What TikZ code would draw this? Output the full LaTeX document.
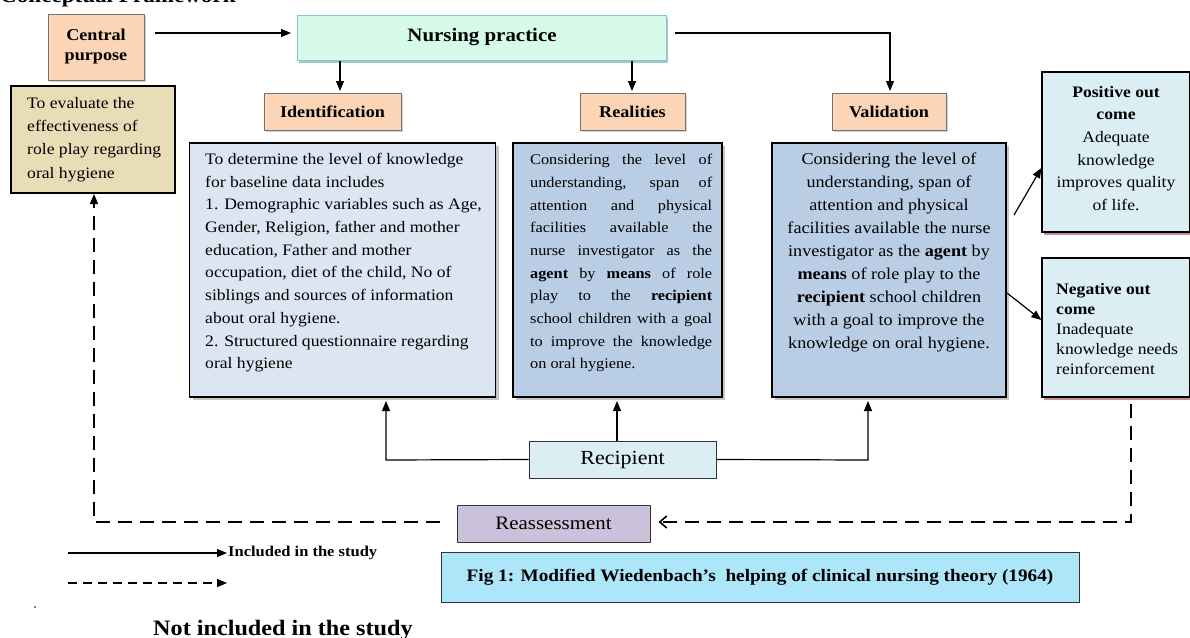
\documentclass[tikz,border=0pt]{standalone}
\usepackage{fontspec}
\setmainfont[FakeStretch=1.1]{Liberation Serif}
\usetikzlibrary{arrows.meta,shadows}
\definecolor{peach}{HTML}{FBD5B5}
\definecolor{mint}{HTML}{D6FBEA}
\definecolor{teal}{HTML}{7EC9D3}
\definecolor{parch}{HTML}{E9DDB8}
\definecolor{lblue}{HTML}{DCE6F2}
\definecolor{mblue}{HTML}{B9CDE5}
\definecolor{cyanl}{HTML}{DBEEF4}
\definecolor{lav}{HTML}{CCC1DA}
\definecolor{capc}{HTML}{ADE6F9}
\definecolor{dred}{HTML}{7F2020}
\tikzset{
  base/.style={draw, inner sep=0pt, line width=1pt},
  headbox/.style={base, fill=peach, draw=black!55, font=\fontsize{16.5}{20}\selectfont\bfseries, align=center,
    drop shadow={shadow xshift=2pt,shadow yshift=-2pt,fill=black!35}},
  bigbox/.style={base, line width=1.3pt, drop shadow={shadow xshift=3pt,shadow yshift=-3pt,fill=black!45}},
  outbox/.style={base, fill=cyanl, line width=1.2pt, drop shadow={shadow xshift=2pt,shadow yshift=-3pt,fill=dred}},
  body/.style={inner sep=0pt, font=\fontsize{16}{22.7}\selectfont},
  conn/.style={line width=1.2pt, -{Triangle[length=10pt,width=8pt]}},
  dconn/.style={line width=1.6pt, dash pattern=on 14pt off 8pt},
}
\begin{document}
\begin{tikzpicture}[x=1pt,y=-1pt]
\useasboundingbox (0,0) rectangle (1190,637);
% title (cut at top)
\node[anchor=base west, inner sep=0pt, font=\fontsize{21}{24}\selectfont\bfseries] (title) at (0,2) {Conceptual Framework};
% central purpose
\node[headbox, minimum width=96pt, minimum height=66pt] (cp) at (96,47) {Central\\purpose};
\node[base, fill=parch, line width=1.3pt, minimum width=164pt, minimum height=107pt] (obj) at (93,139.5) {};
\node[body, anchor=north west, align=left, font=\fontsize{16}{23.3}\selectfont] (objT) at (27,97) {To evaluate the\\effectiveness of\\role play regarding\\oral hygiene};
% nursing practice
\node[base, fill=mint, draw=teal, minimum width=369pt, minimum height=45pt, font=\fontsize{19}{22}\selectfont\bfseries,
  drop shadow={shadow xshift=1pt,shadow yshift=-3pt,fill=teal!70!black}] (np) at (482,37.5) {Nursing practice};
\coordinate (cpA) at (155,33);
\draw[conn] (cpA) -- ([xshift=-6pt]np.west |- cpA);
% heads
\node[headbox, minimum width=137pt, minimum height=37pt] (ident) at (332.5,111.5) {Identification};
\node[headbox, minimum width=105pt, minimum height=37pt] (real) at (632.5,111.5) {Realities};
\node[headbox, minimum width=114pt, minimum height=37pt] (valid) at (889,111.5) {Validation};
\draw[conn] (np.south -| 340,0) -- (340,91);
\draw[conn] (np.south -| 632,0) -- (632,91);
\coordinate (npR) at (675,33);
\draw[conn] (npR) -- (890,33) -- (890,91);
% big boxes
\node[bigbox, fill=lblue, minimum width=306pt, minimum height=254pt] (identB) at (342.5,270) {};
\node[body, anchor=north west, align=left] (identT) at (205,153) {To determine the level of knowledge\\for baseline data includes\\1. Demographic variables such as Age,\\Gender, Religion, father and mother\\education, Father and mother\\occupation, diet of the child, No of\\siblings and sources of information\\about oral hygiene.\\2. Structured questionnaire regarding\\oral hygiene};
\node[bigbox, fill=mblue, minimum width=209pt, minimum height=254pt] (realB) at (617.5,270) {};
\node[body, anchor=north west, align=left, font=\fontsize{14.8}{22.7}\selectfont] (realT) at (530,154) {%
\makebox[182pt][s]{Considering the level of}\\
\makebox[182pt][s]{understanding, span of}\\
\makebox[182pt][s]{attention and physical}\\
\makebox[182pt][s]{facilities available the}\\
\makebox[182pt][s]{nurse investigator as the}\\
\makebox[182pt][s]{\textbf{agent} by \textbf{means} of role}\\
\makebox[182pt][s]{play to the \textbf{recipient}}\\
\makebox[182pt][s]{school children with a goal}\\
\makebox[182pt][s]{to improve the knowledge}\\
on oral hygiene.};
\node[bigbox, fill=mblue, minimum width=234pt, minimum height=254pt] (validB) at (889,270) {};
\node[body, anchor=north, align=center, font=\fontsize{16.5}{23}\selectfont] (validT) at (889,153) {Considering the level of\\understanding, span of\\attention and physical\\facilities available the nurse\\investigator as the \textbf{agent} by\\\textbf{means} of role play to the\\\textbf{recipient} school children\\with a goal to improve the\\knowledge on oral hygiene.};
% outcomes
\node[outbox, minimum width=148pt, minimum height=160pt] (pos) at (1116,152) {};
\node[body, anchor=north, align=center, font=\fontsize{16}{22.6}\selectfont] (posT) at (1116,86) {\textbf{Positive out}\\\textbf{come}\\Adequate\\knowledge\\improves quality\\of life.};
\node[outbox, minimum width=148pt, minimum height=139pt] (neg) at (1116,327.5) {};
\node[body, anchor=north west, align=left, font=\fontsize{16}{20}\selectfont] (negT) at (1056,283) {\textbf{Negative out}\\\textbf{come}\\Inadequate\\knowledge needs\\reinforcement};
\draw[conn] (1014,215) -- (pos.west |- 0,168);
\draw[conn] (1007,293) -- (neg.west |- 0,320);
% recipient
\node[base, fill=cyanl, draw=black!80, minimum width=187pt, minimum height=37pt, font=\fontsize{20}{22}\selectfont] (rec) at (622.5,459.5) {Recipient};
\draw[conn] (rec.west) -- (386,460) -- (386,401);
\draw[conn] (rec.north -| 617,0) -- (617,401);
\draw[conn] (rec.east) -- (868,460) -- (868,401);
% reassessment
\node[base, fill=lav, draw=black!80, minimum width=193pt, minimum height=37pt, font=\fontsize{19}{22}\selectfont] (reas) at (553.5,523.5) {Reassessment};
\draw[dconn, -{Straight Barb[length=7pt,width=12pt,line width=1.6pt]}] (neg.south -| 1131,0) ++(0,6) -- (1131,522) -- ([xshift=8pt]reas.east |- 0,522);
\draw[dconn, -{Triangle[length=10pt,width=8pt]}] ([xshift=-17pt]reas.west |- 0,522) -- (94,522) -- (94,194);
% legend
\coordinate (l1a) at (68,553); \coordinate (l1b) at (227,553);
\draw[conn] (l1a) -- (l1b);
\node[anchor=west, inner sep=0pt, font=\fontsize{15}{16}\selectfont\bfseries] (l1t) at (228,553) {Included in the study};
\coordinate (l2a) at (68,583); \coordinate (l2b) at (227,583);
\draw[line width=1.4pt, dash pattern=on 9pt off 6pt, -{Triangle[length=10pt,width=8pt]}] (l2a) -- (l2b);
\node[base, fill=capc, draw=black!80, minimum width=638pt, minimum height=50pt, font=\fontsize{17.5}{20}\selectfont\bfseries] (cap) at (760,577) {Fig 1: Modified Wiedenbach's \ helping of clinical nursing theory (1964)};
\node[anchor=base west, inner sep=0pt, font=\fontsize{22}{24}\selectfont\bfseries] (nis) at (153,635) {Not included in the study};
\fill (35,607) circle (0.8pt);
\end{tikzpicture}
\end{document}
